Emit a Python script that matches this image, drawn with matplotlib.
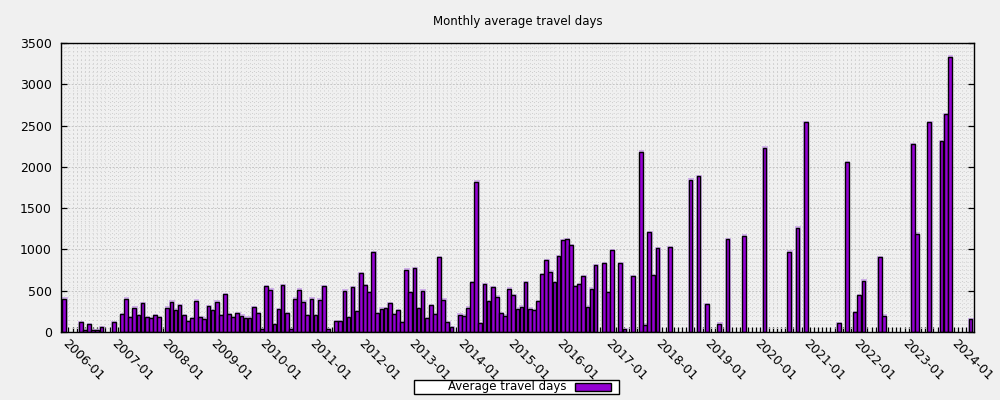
import numpy as np
import matplotlib
matplotlib.use('Agg')
import matplotlib.pyplot as plt
from matplotlib.patches import Rectangle
from matplotlib.ticker import MultipleLocator

# monthly values, starting 2006-01
avg_days = [
    400, 0, 0, 0, 120, 22, 93, 22, 22, 60, 0, 0,              # 2006
    121, 0, 218, 400, 178, 291, 202, 351, 178, 166, 202, 178,  # 2007
    0, 291, 364, 267, 327, 202, 129, 166, 376, 178, 158, 311,  # 2008
    265, 364, 202, 460, 218, 178, 230, 194, 170, 170, 299, 230,  # 2009
    32, 557, 509, 93, 275, 569, 230, 32, 400, 509, 364, 202,   # 2010
    400, 202, 388, 557, 32, 0, 133, 133, 497, 178, 545, 254,   # 2011
    713, 569, 480, 965, 226, 279, 287, 347, 214, 262, 117, 751,  # 2012
    480, 775, 287, 497, 166, 327, 214, 908, 388, 117, 57, 0,   # 2013
    206, 194, 291, 602, 1817, 105, 581, 375, 545, 424, 230, 194,  # 2014
    521, 448, 279, 303, 602, 279, 262, 375, 702, 872, 727, 602,  # 2015
    920, 1110, 1122, 1050, 557, 581, 678, 303, 521, 807, 0, 832,  # 2016
    480, 993, 0, 832, 32, 0, 678, 0, 2180, 85, 1211, 690,     # 2017
    1017, 0, 0, 1025, 0, 0, 0, 0, 1841, 0, 1889, 0,           # 2018
    339, 0, 0, 97, 0, 1126, 0, 0, 0, 1163, 0, 0,              # 2019
    0, 0, 2229, 0, 0, 0, 0, 0, 969, 0, 1260, 0,               # 2020
    2539, 0, 0, 0, 0, 0, 0, 0, 105, 0, 2055, 0,               # 2021
    238, 444, 618, 0, 0, 0, 908, 194, 0, 0, 0, 0,             # 2022
    0, 0, 2273, 1187, 0, 0, 2543, 0, 0, 2313, 2636, 3331,     # 2023
    0, 0, 0, 0, 157,                                          # 2024
]
year_labels = [f'{y}-01' for y in range(2006, 2025)]

bg = '#f0f0f0'
purple = '#9400d3'

plt.rcParams['font.family'] = ['DejaVu Sans']

fig = plt.figure(figsize=(10, 4), dpi=100, facecolor=bg)
ax = fig.add_axes([0.0607, 0.17, 0.9136, 0.7225], facecolor=bg)

months = np.arange(len(avg_days))
vals = np.array(avg_days, dtype=float)
mask = vals > 0

# soft halo like the antialiased original, then the real boxes
ax.bar(months[mask] + 0.12, vals[mask] + 6, width=0.9, color='none',
       edgecolor='#cfaee9', linewidth=1.4, zorder=1)
ax.bar(months[mask], vals[mask], width=0.9, color=purple,
       edgecolor='black', linewidth=1.0, zorder=2)

ax.set_xlim(-0.87, 220.93)
ax.set_ylim(0, 3500)

ax.set_xticks(np.arange(len(year_labels)) * 12)
ax.set_xticklabels(year_labels)
ax.xaxis.set_minor_locator(MultipleLocator(1))
ax.set_yticks(np.arange(0, 3501, 500))
ax.yaxis.set_minor_locator(MultipleLocator(50))

ax.set_axisbelow(True)
grid_c = '#cdcdcd'
ax.grid(which='minor', axis='both', color=grid_c, linestyle=(0, (1, 3)), linewidth=0.7)
ax.xaxis.grid(True, which='major', color=grid_c, linestyle=(0, (1, 3)), linewidth=0.7)
ax.yaxis.grid(True, which='major', color='#c4c4c4', linestyle=(0, (2, 1.5)), linewidth=0.7)

ax.tick_params(axis='x', which='both', direction='in', length=3.3, width=0.9,
               top=False, bottom=True, labelsize=9, pad=7)
ax.tick_params(axis='y', which='major', direction='in', length=4.3, width=0.9,
               left=True, right=True, labelsize=9, pad=6.3)
ax.tick_params(axis='y', which='minor', length=0)

for lab in ax.get_xticklabels():
    lab.set_rotation(-45)
    lab.set_rotation_mode('anchor')
    lab.set_ha('left')
    lab.set_va('center')

for sp in ax.spines.values():
    sp.set_linewidth(1.0)
    sp.set_color('black')

fig.text(0.518, 0.945, 'Monthly average travel days', ha='center', va='center', fontsize=8.5)

# key box at the bottom
fig.add_artist(Rectangle((0.414, 6 / 400), 0.205, 14 / 400, transform=fig.transFigure,
                         facecolor='white', edgecolor='black', linewidth=1.0))
fig.add_artist(Rectangle((0.575, 9 / 400), 0.036, 8 / 400, transform=fig.transFigure,
                         facecolor=purple, edgecolor='black', linewidth=1.0))
fig.text(0.567, 13.5 / 400, 'Average travel days', ha='right', va='center', fontsize=8.5)

fig.savefig('out.png', dpi=100, facecolor=bg)
